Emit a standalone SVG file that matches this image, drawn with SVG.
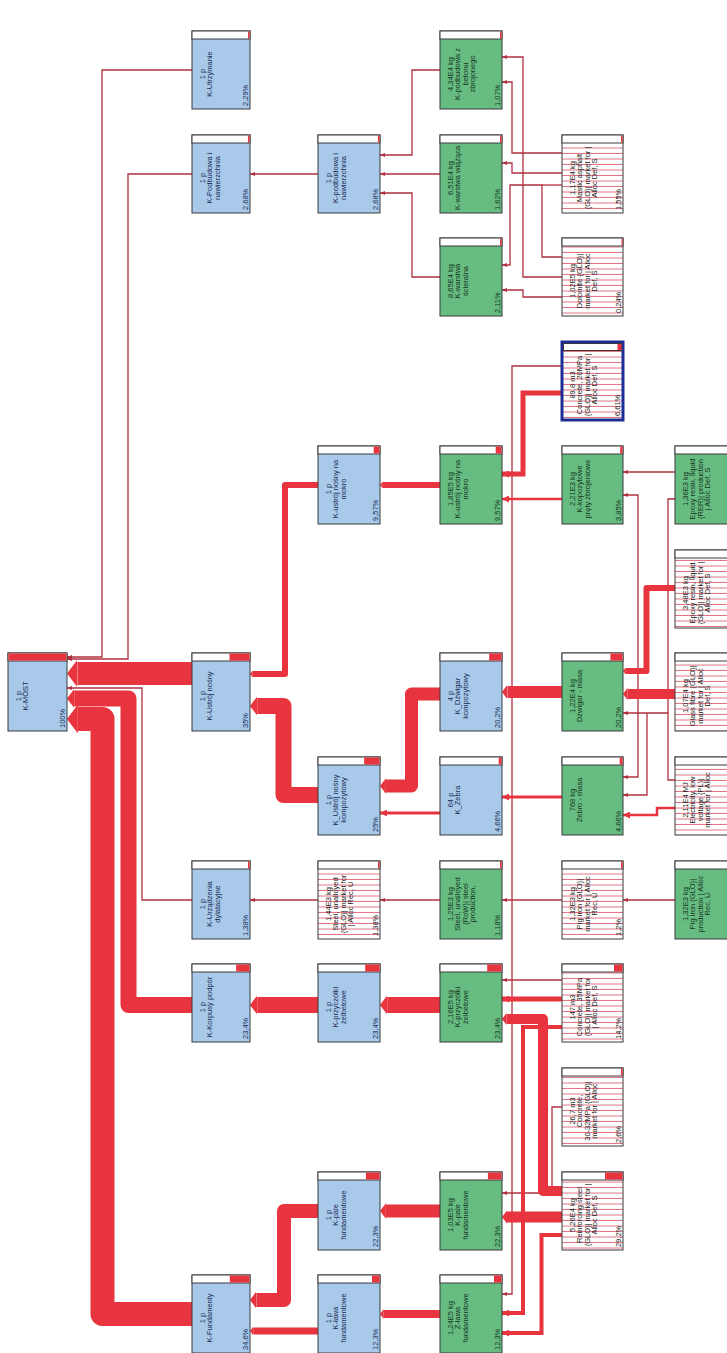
<svg xmlns="http://www.w3.org/2000/svg" width="727" height="1353" viewBox="0 0 727 1353">
<defs>
<style>
.bp{fill:#a8c9ea;stroke:#3a3a3a;stroke-width:1}
.bg{fill:#67bc82;stroke:#3a3a3a;stroke-width:1}
.bh{fill:url(#hatch);stroke:#3a3a3a;stroke-width:1}
.bsel{fill:url(#hatch);stroke:#1d2d94;stroke-width:3}
.hd{fill:#ffffff;stroke:#3a3a3a;stroke-width:1}
.ind{fill:#e8343e}
.t{font-family:"Liberation Sans",Arial,sans-serif;font-size:7.5px;text-anchor:middle}
.pc{text-anchor:start}
.tp{fill:#1b2d55}
.tg{fill:#143620}
.th{fill:#222222}
.ln{fill:none;stroke:#b0303f;stroke-width:1.3;marker-end:url(#ah)}
.ln0{fill:none;stroke:#b0303f;stroke-width:1.3}
.md{fill:none;stroke:#e8343e;marker-end:url(#ahM)}
.tk{fill:none;stroke:#e8343e;stroke-linejoin:round;marker-end:url(#ahT)}
</style>
<pattern id="hatch" width="8" height="5.5" patternUnits="userSpaceOnUse">
<rect width="8" height="5.5" fill="#ffffff"/>
<rect y="4.5" width="8" height="1" fill="#e07282"/>
</pattern>
<marker id="ah" viewBox="0 0 5 4" refX="5" refY="2" markerWidth="5" markerHeight="4" markerUnits="userSpaceOnUse" orient="auto">
<path d="M0,0 L5,2 L0,4 z" fill="#b0303f"/>
</marker>
<marker id="ahM" viewBox="0 0 7 7" refX="7" refY="3.5" markerWidth="7" markerHeight="7" markerUnits="userSpaceOnUse" orient="auto">
<path d="M0,0 L7,3.5 L0,7 z" fill="#e8343e"/>
</marker>
<marker id="ahT" viewBox="0 0 10 26.67" refX="0" refY="13.33" markerWidth="0.45" markerHeight="1.2" markerUnits="strokeWidth" orient="auto">
<path d="M0,0 L10,13.33 L0,26.67 z" fill="#e8343e"/>
</marker>
</defs>
<rect width="727" height="1353" fill="#ffffff"/>

<g id="connectors">
<path class="ln" d="M192,70 H102 V657 H67"/>
<path class="ln" d="M192,174 H128 V659 H67"/>
<path class="ln" d="M192,900 H142 V688 H67"/>
<path class="ln" d="M318,174 H250"/>
<path class="ln" d="M318,900 H250"/>
<path class="ln" d="M440,70 H412 V155 H380"/>
<path class="ln" d="M440,174 H380"/>
<path class="ln" d="M440,277 H412 V193 H380"/>
<path class="ln" d="M440,900 H380"/>
<path class="ln" d="M562,153 H512 V82 H502"/>
<path class="ln" d="M562,277 H523 V57 H502"/>
<path class="ln" d="M562,173 H512 V163 H502"/>
<path class="ln" d="M562,257 H542 V185 H510 V265 H502"/>
<path class="ln0" d="M562,185 H542"/>
<path class="ln" d="M562,297 H523 V290 H502"/>
<path class="ln" d="M562,366 H512 V1294 H502"/>
<path class="ln" d="M562,900 H502"/>
<path class="ln" d="M562,980 H502"/>
<path class="ln" d="M562,1107 H552 V1193 H502"/>
<path class="ln" d="M675,472 H623"/>
<path class="ln" d="M675,780 H668 V713 H623"/>
<path class="ln" d="M638,713 V495 H623"/>
<path class="ln" d="M638,713 V777 H623"/>
<path class="ln" d="M647,713 V795 H623"/>
<path class="ln0" d="M668,713 V499 H675"/>
<path class="ln" d="M675,900 H623"/>

<path class="md" style="stroke-width:3" d="M440,813 H380"/>
<path class="md" style="stroke-width:2.6" d="M562,499 H502"/>
<path class="md" style="stroke-width:3" d="M562,797 H502"/>
<path class="md" style="stroke-width:5" d="M562,999 H502"/>
<path class="md" style="stroke-width:4" d="M562,1235 H541.5 V1333 H502"/>
<path class="md" style="stroke-width:4" d="M562,1027 H523 V1313 H502"/>
<path class="md" style="stroke-width:5" d="M562,393 H523 V474 H502"/>
<path class="md" style="stroke-width:2.5" d="M675,808 H657 V815 H623"/>

<path class="tk" style="stroke-width:23" d="M192,673.5 H77.4"/>
<path class="tk" style="stroke-width:16" d="M192,1005 H128.5 V698.5 H74.2"/>
<path class="tk" style="stroke-width:24" d="M192,1314 H102.5 V719 H77.8"/>
<path class="tk" style="stroke-width:6" d="M318,485 H285 V674 H252.7"/>
<path class="tk" style="stroke-width:16" d="M318,795 H283.5 V706 H257.2"/>
<path class="tk" style="stroke-width:16" d="M318,1005 H257.2"/>
<path class="tk" style="stroke-width:14" d="M318,1211 H284 V1300 H256.3"/>
<path class="tk" style="stroke-width:7" d="M318,1331 H253.2"/>
<path class="tk" style="stroke-width:6" d="M440,485 H382.7"/>
<path class="tk" style="stroke-width:13" d="M440,694 H411.5 V786 H385.9"/>
<path class="tk" style="stroke-width:16" d="M440,1005 H387.2"/>
<path class="tk" style="stroke-width:13" d="M440,1211 H385.9"/>
<path class="tk" style="stroke-width:8" d="M440,1314 H383.6"/>
<path class="tk" style="stroke-width:12" d="M562,692 H507.4"/>
<path class="tk" style="stroke-width:10" d="M562,1191 H543 V1019 H506.5"/>
<path class="tk" style="stroke-width:11" d="M562,1217 H507"/>
<path class="tk" style="stroke-width:6" d="M675,588 H646.5 V671 H625.7"/>
<path class="tk" style="stroke-width:10" d="M675,694 H627.5"/>
</g>

<g id="n-kmost">
<rect class="bp" x="8" y="653" width="59" height="78"/>
<rect class="hd" x="8" y="653" width="59" height="8"/>
<rect class="ind" x="8.5" y="653.5" width="58" height="7"/>
<text class="t tp" transform="translate(20.5,696) rotate(-90)"><tspan x="0">1 p</tspan><tspan x="0" dy="7.5">K-MOST</tspan></text>
<text class="t tp pc" transform="translate(64.5,728) rotate(-90)">100%</text>
</g>

<g id="n-utrzymanie">
<rect class="bp" x="192" y="31" width="58" height="78"/>
<rect class="hd" x="192" y="31" width="58" height="8"/>
<rect class="ind" x="248" y="31.5" width="1.5" height="7"/>
<text class="t tp" transform="translate(204.5,74) rotate(-90)"><tspan x="0">1 p</tspan><tspan x="0" dy="7.5">K-Utrzymanie</tspan></text>
<text class="t tp pc" transform="translate(247.5,106) rotate(-90)">2,29%</text>
</g>

<g id="n-podbudowa-b">
<rect class="bp" x="192" y="135" width="58" height="78"/>
<rect class="hd" x="192" y="135" width="58" height="8"/>
<rect class="ind" x="247.9" y="135.5" width="1.6" height="7"/>
<text class="t tp" transform="translate(204.5,178) rotate(-90)"><tspan x="0">1 p</tspan><tspan x="0" dy="7.5">K-Podbudowa i</tspan><tspan x="0" dy="7.5">nawierzchnia</tspan></text>
<text class="t tp pc" transform="translate(247.5,210) rotate(-90)">2,68%</text>
</g>

<g id="n-ustroj">
<rect class="bp" x="192" y="653" width="58" height="78"/>
<rect class="hd" x="192" y="653" width="58" height="8"/>
<rect class="ind" x="229.5" y="653.5" width="20" height="7"/>
<text class="t tp" transform="translate(204.5,696) rotate(-90)"><tspan x="0">1 p</tspan><tspan x="0" dy="7.5">K-Ustrój nośny</tspan></text>
<text class="t tp pc" transform="translate(247.5,728) rotate(-90)">35%</text>
</g>

<g id="n-urzadzenia">
<rect class="bp" x="192" y="861" width="58" height="78"/>
<rect class="hd" x="192" y="861" width="58" height="8"/>
<rect class="ind" x="248" y="861.5" width="1.5" height="7"/>
<text class="t tp" transform="translate(204.5,904) rotate(-90)"><tspan x="0">1 p</tspan><tspan x="0" dy="7.5">K-Urządzenia</tspan><tspan x="0" dy="7.5">dylatacyjne</tspan></text>
<text class="t tp pc" transform="translate(247.5,936) rotate(-90)">1,38%</text>
</g>

<g id="n-korpusy">
<rect class="bp" x="192" y="964" width="58" height="78"/>
<rect class="hd" x="192" y="964" width="58" height="8"/>
<rect class="ind" x="236.2" y="964.5" width="13.3" height="7"/>
<text class="t tp" transform="translate(204.5,1007) rotate(-90)"><tspan x="0">1 p</tspan><tspan x="0" dy="7.5">K-Korpusy podpór</tspan></text>
<text class="t tp pc" transform="translate(247.5,1039) rotate(-90)">23,4%</text>
</g>

<g id="n-fundamenty">
<rect class="bp" x="192" y="1275" width="58" height="78"/>
<rect class="hd" x="192" y="1275" width="58" height="8"/>
<rect class="ind" x="229.8" y="1275.5" width="19.7" height="7"/>
<text class="t tp" transform="translate(204.5,1318) rotate(-90)"><tspan x="0">1 p</tspan><tspan x="0" dy="7.5">K-Fundamenty</tspan></text>
<text class="t tp pc" transform="translate(247.5,1350) rotate(-90)">34,6%</text>
</g>

<g id="n-podbudowa-c">
<rect class="bp" x="318" y="135" width="62" height="78"/>
<rect class="hd" x="318" y="135" width="62" height="8"/>
<rect class="ind" x="377.9" y="135.5" width="1.6" height="7"/>
<text class="t tp" transform="translate(330.5,178) rotate(-90)"><tspan x="0">1 p</tspan><tspan x="0" dy="7.5">K-podbudowa i</tspan><tspan x="0" dy="7.5">nawierzchnia</tspan></text>
<text class="t tp pc" transform="translate(377.5,210) rotate(-90)">2,68%</text>
</g>

<g id="n-mokro-c">
<rect class="bp" x="318" y="446" width="62" height="78"/>
<rect class="hd" x="318" y="446" width="62" height="8"/>
<rect class="ind" x="373.7" y="446.5" width="5.8" height="7"/>
<text class="t tp" transform="translate(330.5,489) rotate(-90)"><tspan x="0">1 p</tspan><tspan x="0" dy="7.5">K-ustrój nośny na</tspan><tspan x="0" dy="7.5">mokro</tspan></text>
<text class="t tp pc" transform="translate(377.5,521) rotate(-90)">9,57%</text>
</g>

<g id="n-kompozyt-c">
<rect class="bp" x="318" y="757" width="62" height="78"/>
<rect class="hd" x="318" y="757" width="62" height="8"/>
<rect class="ind" x="364.2" y="757.5" width="15.3" height="7"/>
<text class="t tp" transform="translate(330.5,800) rotate(-90)"><tspan x="0">1 p</tspan><tspan x="0" dy="7.5">K_Ustrój nośny</tspan><tspan x="0" dy="7.5">kompozytowy</tspan></text>
<text class="t tp pc" transform="translate(377.5,832) rotate(-90)">25%</text>
</g>

<g id="n-steel-market">
<rect class="bh" x="318" y="861" width="62" height="78"/>
<rect class="hd" x="318" y="861" width="62" height="8"/>
<rect class="ind" x="378" y="861.5" width="1.5" height="7"/>
<text class="t th" transform="translate(330.5,904) rotate(-90)"><tspan x="0">1,44E3 kg</tspan><tspan x="0" dy="7.5">Steel, unalloyed</tspan><tspan x="0" dy="7.5">{GLO}| market for</tspan><tspan x="0" dy="7.5">| Alloc Rec, U</tspan></text>
<text class="t th pc" transform="translate(377.5,936) rotate(-90)">1,38%</text>
</g>

<g id="n-przyczolki-c">
<rect class="bp" x="318" y="964" width="62" height="78"/>
<rect class="hd" x="318" y="964" width="62" height="8"/>
<rect class="ind" x="365.2" y="964.5" width="14.3" height="7"/>
<text class="t tp" transform="translate(330.5,1007) rotate(-90)"><tspan x="0">1 p</tspan><tspan x="0" dy="7.5">K-przyczółki</tspan><tspan x="0" dy="7.5">żelbetowe</tspan></text>
<text class="t tp pc" transform="translate(377.5,1039) rotate(-90)">23,4%</text>
</g>

<g id="n-pale-c">
<rect class="bp" x="318" y="1172" width="62" height="78"/>
<rect class="hd" x="318" y="1172" width="62" height="8"/>
<rect class="ind" x="365.9" y="1172.5" width="13.6" height="7"/>
<text class="t tp" transform="translate(330.5,1215) rotate(-90)"><tspan x="0">1 p</tspan><tspan x="0" dy="7.5">K-pale</tspan><tspan x="0" dy="7.5">fundamentowe</tspan></text>
<text class="t tp pc" transform="translate(377.5,1247) rotate(-90)">22,3%</text>
</g>

<g id="n-lawa-c">
<rect class="bp" x="318" y="1275" width="62" height="78"/>
<rect class="hd" x="318" y="1275" width="62" height="8"/>
<rect class="ind" x="372" y="1275.5" width="7.5" height="7"/>
<text class="t tp" transform="translate(330.5,1318) rotate(-90)"><tspan x="0">1 p</tspan><tspan x="0" dy="7.5">K-ława</tspan><tspan x="0" dy="7.5">fundamentowe</tspan></text>
<text class="t tp pc" transform="translate(377.5,1350) rotate(-90)">12,3%</text>
</g>

<g id="n-betonu">
<rect class="bg" x="440" y="31" width="62" height="78"/>
<rect class="hd" x="440" y="31" width="62" height="8"/>
<rect class="ind" x="500" y="31.5" width="1.5" height="7"/>
<text class="t tg" transform="translate(452.5,74) rotate(-90)"><tspan x="0">4,34E4 kg</tspan><tspan x="0" dy="7.5">K-podbudowa z</tspan><tspan x="0" dy="7.5">betonu</tspan><tspan x="0" dy="7.5">zbrojonego</tspan></text>
<text class="t tg pc" transform="translate(499.5,106) rotate(-90)">1,07%</text>
</g>

<g id="n-wiazaca">
<rect class="bg" x="440" y="135" width="62" height="78"/>
<rect class="hd" x="440" y="135" width="62" height="8"/>
<rect class="ind" x="500" y="135.5" width="1.5" height="7"/>
<text class="t tg" transform="translate(452.5,178) rotate(-90)"><tspan x="0">6,51E4 kg</tspan><tspan x="0" dy="7.5">K-warstwa wiążąca</tspan></text>
<text class="t tg pc" transform="translate(499.5,210) rotate(-90)">1,62%</text>
</g>

<g id="n-scieralna">
<rect class="bg" x="440" y="238" width="62" height="78"/>
<rect class="hd" x="440" y="238" width="62" height="8"/>
<rect class="ind" x="500" y="238.5" width="1.5" height="7"/>
<text class="t tg" transform="translate(452.5,281) rotate(-90)"><tspan x="0">8,65E4 kg</tspan><tspan x="0" dy="7.5">K-warstwa</tspan><tspan x="0" dy="7.5">ścieralna</tspan></text>
<text class="t tg pc" transform="translate(499.5,313) rotate(-90)">2,11%</text>
</g>

<g id="n-mokro-d">
<rect class="bg" x="440" y="446" width="62" height="78"/>
<rect class="hd" x="440" y="446" width="62" height="8"/>
<rect class="ind" x="495.7" y="446.5" width="5.8" height="7"/>
<text class="t tg" transform="translate(452.5,489) rotate(-90)"><tspan x="0">1,85E5 kg</tspan><tspan x="0" dy="7.5">K-ustrój nośny na</tspan><tspan x="0" dy="7.5">mokro</tspan></text>
<text class="t tg pc" transform="translate(499.5,521) rotate(-90)">9,57%</text>
</g>

<g id="n-dzwigar-d">
<rect class="bp" x="440" y="653" width="62" height="78"/>
<rect class="hd" x="440" y="653" width="62" height="8"/>
<rect class="ind" x="489.2" y="653.5" width="12.3" height="7"/>
<text class="t tp" transform="translate(452.5,696) rotate(-90)"><tspan x="0">4 p</tspan><tspan x="0" dy="7.5">K_Dźwigar</tspan><tspan x="0" dy="7.5">kompozytowy</tspan></text>
<text class="t tp pc" transform="translate(499.5,728) rotate(-90)">20,2%</text>
</g>

<g id="n-zebra-d">
<rect class="bp" x="440" y="757" width="62" height="78"/>
<rect class="hd" x="440" y="757" width="62" height="8"/>
<rect class="ind" x="498.7" y="757.5" width="2.8" height="7"/>
<text class="t tp" transform="translate(452.5,800) rotate(-90)"><tspan x="0">64 p</tspan><tspan x="0" dy="7.5">K_Żebra</tspan></text>
<text class="t tp pc" transform="translate(499.5,832) rotate(-90)">4,66%</text>
</g>

<g id="n-steel-prod">
<rect class="bg" x="440" y="861" width="62" height="78"/>
<rect class="hd" x="440" y="861" width="62" height="8"/>
<rect class="ind" x="500" y="861.5" width="1.5" height="7"/>
<text class="t tg" transform="translate(452.5,904) rotate(-90)"><tspan x="0">1,25E3 kg</tspan><tspan x="0" dy="7.5">Steel, unalloyed</tspan><tspan x="0" dy="7.5">{RoW}| steel</tspan><tspan x="0" dy="7.5">production,</tspan></text>
<text class="t tg pc" transform="translate(499.5,936) rotate(-90)">1,18%</text>
</g>

<g id="n-przyczolki-d">
<rect class="bg" x="440" y="964" width="62" height="78"/>
<rect class="hd" x="440" y="964" width="62" height="8"/>
<rect class="ind" x="487.2" y="964.5" width="14.3" height="7"/>
<text class="t tg" transform="translate(452.5,1007) rotate(-90)"><tspan x="0">2,16E5 kg</tspan><tspan x="0" dy="7.5">K-przyczółki</tspan><tspan x="0" dy="7.5">żelbetowe</tspan></text>
<text class="t tg pc" transform="translate(499.5,1039) rotate(-90)">23,4%</text>
</g>

<g id="n-pale-d">
<rect class="bg" x="440" y="1172" width="62" height="78"/>
<rect class="hd" x="440" y="1172" width="62" height="8"/>
<rect class="ind" x="487.9" y="1172.5" width="13.6" height="7"/>
<text class="t tg" transform="translate(452.5,1215) rotate(-90)"><tspan x="0">1,03E5 kg</tspan><tspan x="0" dy="7.5">K-pale</tspan><tspan x="0" dy="7.5">fundamentowe</tspan></text>
<text class="t tg pc" transform="translate(499.5,1247) rotate(-90)">22,3%</text>
</g>

<g id="n-lawa-d">
<rect class="bg" x="440" y="1275" width="62" height="78"/>
<rect class="hd" x="440" y="1275" width="62" height="8"/>
<rect class="ind" x="494" y="1275.5" width="7.5" height="7"/>
<text class="t tg" transform="translate(452.5,1318) rotate(-90)"><tspan x="0">1,24E5 kg</tspan><tspan x="0" dy="7.5">Z-ława</tspan><tspan x="0" dy="7.5">fundamentowe</tspan></text>
<text class="t tg pc" transform="translate(499.5,1350) rotate(-90)">12,3%</text>
</g>

<g id="n-mastic">
<rect class="bh" x="562" y="135" width="61" height="78"/>
<rect class="hd" x="562" y="135" width="61" height="8"/>
<rect class="ind" x="621" y="135.5" width="1.5" height="7"/>
<text class="t th" transform="translate(574.5,178) rotate(-90)"><tspan x="0">1,17E4 kg</tspan><tspan x="0" dy="7.5">Mastic asphalt</tspan><tspan x="0" dy="7.5">{GLO}| market for |</tspan><tspan x="0" dy="7.5">Alloc Def, S</tspan></text>
<text class="t th pc" transform="translate(620.5,210) rotate(-90)">1,55%</text>
</g>

<g id="n-dolomite">
<rect class="bh" x="562" y="238" width="61" height="78"/>
<rect class="hd" x="562" y="238" width="61" height="8"/>
<rect class="ind" x="621.5" y="238.5" width="1" height="7"/>
<text class="t th" transform="translate(574.5,281) rotate(-90)"><tspan x="0">1,02E5 kg</tspan><tspan x="0" dy="7.5">Dolomite {GLO}|</tspan><tspan x="0" dy="7.5">market for | Alloc</tspan><tspan x="0" dy="7.5">Def, S</tspan></text>
<text class="t th pc" transform="translate(620.5,313) rotate(-90)">0,24%</text>
</g>

<g id="n-concrete20">
<rect class="bsel" x="562" y="342" width="61" height="78"/>
<rect class="hd" x="563.5" y="343.5" width="58" height="7"/>
<rect class="ind" x="617.5" y="344" width="4" height="6"/>
<text class="t th" transform="translate(574.5,385) rotate(-90)"><tspan x="0">89,8 m3</tspan><tspan x="0" dy="7.5">Concrete, 20MPa</tspan><tspan x="0" dy="7.5">{GLO}| market for |</tspan><tspan x="0" dy="7.5">Alloc Def, S</tspan></text>
<text class="t th pc" transform="translate(619.5,416) rotate(-90)">6,61%</text>
</g>

<g id="n-kopozytowe">
<rect class="bg" x="562" y="446" width="61" height="78"/>
<rect class="hd" x="562" y="446" width="61" height="8"/>
<rect class="ind" x="620.2" y="446.5" width="2.3" height="7"/>
<text class="t tg" transform="translate(574.5,489) rotate(-90)"><tspan x="0">2,21E3 kg</tspan><tspan x="0" dy="7.5">K-kopozytowe</tspan><tspan x="0" dy="7.5">pręty zbrojeniowe</tspan></text>
<text class="t tg pc" transform="translate(620.5,521) rotate(-90)">3,85%</text>
</g>

<g id="n-dzwigar-masa">
<rect class="bg" x="562" y="653" width="61" height="78"/>
<rect class="hd" x="562" y="653" width="61" height="8"/>
<rect class="ind" x="610.4" y="653.5" width="12.1" height="7"/>
<text class="t tg" transform="translate(574.5,696) rotate(-90)"><tspan x="0">1,22E4 kg</tspan><tspan x="0" dy="7.5">Dźwigar - masa</tspan></text>
<text class="t tg pc" transform="translate(620.5,728) rotate(-90)">20,2%</text>
</g>

<g id="n-zebro-masa">
<rect class="bg" x="562" y="757" width="61" height="78"/>
<rect class="hd" x="562" y="757" width="61" height="8"/>
<rect class="ind" x="619.7" y="757.5" width="2.8" height="7"/>
<text class="t tg" transform="translate(574.5,800) rotate(-90)"><tspan x="0">768 kg</tspan><tspan x="0" dy="7.5">Żebro - masa</tspan></text>
<text class="t tg pc" transform="translate(620.5,832) rotate(-90)">4,66%</text>
</g>

<g id="n-pigiron-market">
<rect class="bh" x="562" y="861" width="61" height="78"/>
<rect class="hd" x="562" y="861" width="61" height="8"/>
<rect class="ind" x="621" y="861.5" width="1.5" height="7"/>
<text class="t th" transform="translate(574.5,904) rotate(-90)"><tspan x="0">1,32E3 kg</tspan><tspan x="0" dy="7.5">Pig iron {GLO}|</tspan><tspan x="0" dy="7.5">market for | Alloc</tspan><tspan x="0" dy="7.5">Rec, U</tspan></text>
<text class="t th pc" transform="translate(620.5,936) rotate(-90)">1,2%</text>
</g>

<g id="n-concrete35">
<rect class="bh" x="562" y="964" width="61" height="78"/>
<rect class="hd" x="562" y="964" width="61" height="8"/>
<rect class="ind" x="614" y="964.5" width="8.5" height="7"/>
<text class="t th" transform="translate(574.5,1007) rotate(-90)"><tspan x="0">147 m3</tspan><tspan x="0" dy="7.5">Concrete, 35MPa</tspan><tspan x="0" dy="7.5">{GLO}| market for</tspan><tspan x="0" dy="7.5">| Alloc Def, S</tspan></text>
<text class="t th pc" transform="translate(620.5,1039) rotate(-90)">14,2%</text>
</g>

<g id="n-concrete30">
<rect class="bh" x="562" y="1068" width="61" height="78"/>
<rect class="hd" x="562" y="1068" width="61" height="8"/>
<rect class="ind" x="620.9" y="1068.5" width="1.6" height="7"/>
<text class="t th" transform="translate(574.5,1111) rotate(-90)"><tspan x="0">26,7 m3</tspan><tspan x="0" dy="7.5">Concrete,</tspan><tspan x="0" dy="7.5">30-32MPa {GLO}|</tspan><tspan x="0" dy="7.5">market for | Alloc</tspan></text>
<text class="t th pc" transform="translate(620.5,1143) rotate(-90)">2,6%</text>
</g>

<g id="n-reinforcing">
<rect class="bh" x="562" y="1172" width="61" height="78"/>
<rect class="hd" x="562" y="1172" width="61" height="8"/>
<rect class="ind" x="605" y="1172.5" width="17.5" height="7"/>
<text class="t th" transform="translate(574.5,1215) rotate(-90)"><tspan x="0">5,26E4 kg</tspan><tspan x="0" dy="7.5">Reinforcing steel</tspan><tspan x="0" dy="7.5">{GLO}| market for |</tspan><tspan x="0" dy="7.5">Alloc Def, S</tspan></text>
<text class="t th pc" transform="translate(620.5,1247) rotate(-90)">29,2%</text>
</g>

<g id="n-epoxy-prod">
<rect class="bg" x="675" y="446" width="62" height="78"/>
<rect class="hd" x="675" y="446" width="62" height="8"/>
<text class="t tg" transform="translate(687.5,489) rotate(-90)"><tspan x="0">1,36E3 kg</tspan><tspan x="0" dy="7.5">Epoxy resin, liquid</tspan><tspan x="0" dy="7.5">{RER}| production</tspan><tspan x="0" dy="7.5">| Alloc Def, S</tspan></text>
</g>

<g id="n-epoxy-market">
<rect class="bh" x="675" y="550" width="62" height="78"/>
<rect class="hd" x="675" y="550" width="62" height="8"/>
<text class="t th" transform="translate(687.5,593) rotate(-90)"><tspan x="0">3,48E3 kg</tspan><tspan x="0" dy="7.5">Epoxy resin, liquid</tspan><tspan x="0" dy="7.5">{GLO}| market for |</tspan><tspan x="0" dy="7.5">Alloc Def, S</tspan></text>
</g>

<g id="n-glass">
<rect class="bh" x="675" y="653" width="62" height="78"/>
<rect class="hd" x="675" y="653" width="62" height="8"/>
<text class="t th" transform="translate(687.5,696) rotate(-90)"><tspan x="0">1,07E4 kg</tspan><tspan x="0" dy="7.5">Glass fibre {GLO}|</tspan><tspan x="0" dy="7.5">market for | Alloc</tspan><tspan x="0" dy="7.5">Def, S</tspan></text>
</g>

<g id="n-electricity">
<rect class="bh" x="675" y="757" width="62" height="78"/>
<rect class="hd" x="675" y="757" width="62" height="8"/>
<text class="t th" transform="translate(687.5,800) rotate(-90)"><tspan x="0">2,11E4 MJ</tspan><tspan x="0" dy="7.5">Electricity, low</tspan><tspan x="0" dy="7.5">voltage {PL}|</tspan><tspan x="0" dy="7.5">market for | Alloc</tspan></text>
</g>

<g id="n-pigiron-prod">
<rect class="bg" x="675" y="861" width="62" height="78"/>
<rect class="hd" x="675" y="861" width="62" height="8"/>
<text class="t tg" transform="translate(687.5,904) rotate(-90)"><tspan x="0">1,32E3 kg</tspan><tspan x="0" dy="7.5">Pig iron {GLO}|</tspan><tspan x="0" dy="7.5">production | Alloc</tspan><tspan x="0" dy="7.5">Rec, U</tspan></text>
</g>
</svg>
